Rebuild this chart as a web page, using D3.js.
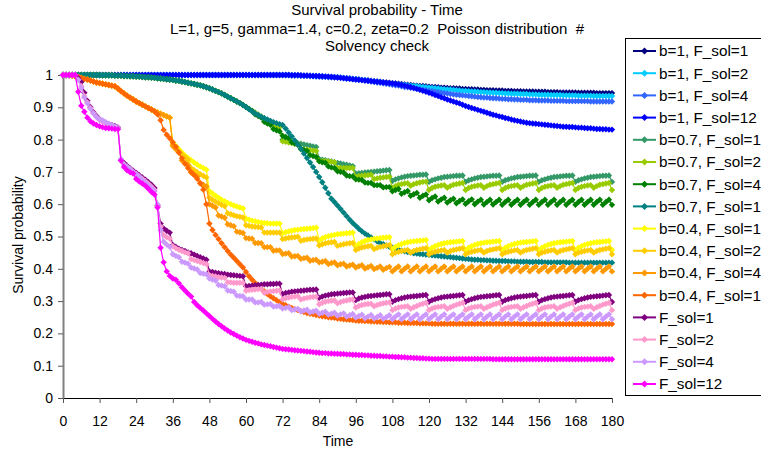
<!DOCTYPE html>
<html><head><meta charset="utf-8">
<script src="https://cdn.jsdelivr.net/npm/d3@7"></script>
<style>body{margin:0;background:#fff;overflow:hidden}</style>
</head><body><svg id="c" width="761" height="452"></svg>
<script>
const timeSteps = d3.range(0, 181);
const xTickValues = [0,12,24,36,48,60,72,84,96,108,120,132,144,156,168,180];
const yTickValues = [0,0.1,0.2,0.3,0.4,0.5,0.6,0.7,0.8,0.9,1];
const titleLines = ["Survival probability - Time", "L=1, g=5, gamma=1.4, c=0.2, zeta=0.2  Poisson distribution  #", "Solvency check"];
const seriesNames = ["b=1, F_sol=1","b=1, F_sol=2","b=1, F_sol=4","b=1, F_sol=12","b=0.7, F_sol=1","b=0.7, F_sol=2","b=0.7, F_sol=4","b=0.7, F_sol=12","b=0.4, F_sol=1","b=0.4, F_sol=2","b=0.4, F_sol=4","b=0.4, F_sol=12","F_sol=1","F_sol=2","F_sol=4","F_sol=12"];
const seriesColors = ["#000080","#00CCFF","#3366FF","#0000FF","#339966","#99CC00","#008000","#008080","#FFFF00","#FFCC00","#FF9900","#FF6600","#800080","#FF99CC","#CC99FF","#FF00FF"];

const b1_F1 = [
1,1,1,1,1,1,1,1,1,1,1,1,
1,1,1,1,1,1,1,1,1,1,1,1,
1,1,1,1,1,1,1,1,1,1,1,1,
1,1,1,1,1,1,1,1,1,1,1,1,
1,1,1,1,1,1,1,1,1,1,1,1,
1,1,1,1,1,1,1,1,1,1,1,1,
1,1,1,.999,.999,.999,.998,.998,.998,.997,.997,.996,
.996,.995,.995,.994,.994,.993,.993,.992,.991,.990,.989,.988,
.987,.986,.985,.984,.983,.982,.981,.980,.979,.978,.977,.976,
.975,.974,.973,.972,.971,.970,.969,.968,.967,.966,.966,.965,
.964,.963,.963,.962,.961,.961,.960,.959,.959,.958,.958,.957,
.957,.956,.956,.955,.955,.954,.954,.953,.953,.953,.952,.952,
.952,.951,.951,.951,.950,.950,.950,.949,.949,.949,.949,.948,
.948,.948,.948,.947,.947,.947,.947,.946,.946,.946,.946,.946,
.946,.945,.945,.945,.945,.945,.945,.944,.944,.944,.944,.944,
.944];
const b1_F2 = [
1,1,1,1,1,1,1,1,1,1,1,1,
1,1,1,1,1,1,1,1,1,1,1,1,
1,1,1,1,1,1,1,1,1,1,1,1,
1,1,1,1,1,1,1,1,1,1,1,1,
1,1,1,1,1,1,1,1,1,1,1,1,
1,1,1,1,1,1,1,1,1,1,1,1,
1,1,1,.999,.999,.999,.998,.998,.998,.997,.997,.996,
.996,.995,.995,.994,.994,.993,.993,.992,.991,.990,.989,.988,
.987,.986,.985,.984,.983,.981,.980,.979,.978,.977,.975,.974,
.973,.972,.971,.970,.969,.968,.967,.966,.965,.964,.963,.962,
.961,.960,.959,.958,.957,.956,.955,.955,.954,.953,.952,.951,
.951,.950,.949,.949,.948,.947,.947,.946,.946,.945,.945,.944,
.944,.943,.943,.942,.942,.942,.941,.941,.941,.940,.940,.940,
.939,.939,.939,.939,.938,.938,.938,.938,.937,.937,.937,.937,
.937,.936,.936,.936,.936,.936,.935,.935,.935,.935,.935,.935,
.935];
const b1_F4 = [
1,1,1,1,1,1,1,1,1,1,1,1,
1,1,1,1,1,1,1,1,1,1,1,1,
1,1,1,1,1,1,1,1,1,1,1,1,
1,1,1,1,1,1,1,1,1,1,1,1,
1,1,1,1,1,1,1,1,1,1,1,1,
1,1,1,1,1,1,1,1,1,1,1,1,
1,1,1,.999,.999,.999,.998,.998,.998,.997,.997,.996,
.996,.995,.995,.994,.994,.993,.993,.992,.991,.990,.989,.988,
.987,.986,.984,.983,.982,.980,.979,.977,.976,.974,.973,.971,
.970,.968,.967,.965,.963,.962,.960,.959,.957,.956,.954,.953,
.951,.950,.948,.947,.945,.944,.943,.941,.940,.939,.938,.937,
.936,.935,.934,.933,.932,.931,.930,.930,.929,.928,.928,.927,
.926,.926,.925,.925,.924,.924,.923,.923,.923,.922,.922,.922,
.921,.921,.921,.921,.920,.920,.920,.920,.920,.919,.919,.919,
.919,.919,.919,.919,.919,.918,.918,.918,.918,.918,.918,.918,
.918];
const b1_F12 = [
1,1,1,1,1,1,1,1,1,1,1,1,
1,1,1,1,1,1,1,1,1,1,1,1,
1,1,1,1,1,1,1,1,1,1,1,1,
1,1,1,1,1,1,1,1,1,1,1,1,
1,1,1,1,1,1,1,1,1,1,1,1,
1,1,1,1,1,1,1,1,1,1,1,1,
1,1,1,.999,.999,.999,.999,.998,.998,.998,.997,.997,
.996,.996,.995,.995,.994,.993,.992,.991,.990,.989,.988,.987,
.986,.985,.984,.983,.982,.981,.980,.979,.978,.977,.976,.975,
.974,.973,.971,.969,.967,.965,.963,.960,.957,.954,.951,.948,
.945,.942,.938,.935,.931,.928,.924,.921,.918,.915,.912,.908,
.904,.901,.898,.895,.892,.889,.886,.883,.880,.877,.875,.872,
.870,.867,.865,.862,.860,.858,.856,.854,.852,.851,.850,.849,
.848,.847,.846,.845,.844,.843,.842,.841,.840,.840,.839,.839,
.838,.837,.837,.836,.835,.835,.834,.833,.833,.832,.832,.831,
.831];
const b07_F1 = [
1,1,1,1,1,1,1,1,1,1,1,1,
1,.999,.999,.999,.999,.998,.998,.998,.997,.997,.996,.996,
.995,.995,.994,.993,.993,.992,.991,.990,.989,.988,.987,.986,
.985,.983,.982,.980,.978,.976,.974,.972,.970,.968,.965,.962,
.959,.955,.951,.947,.943,.938,.933,.928,.923,.918,.913,.907,
.901,.895,.889,.883,.877,.871,.866,.861,.856,.851,.846,.842,
.800,.797,.795,.793,.791,.789,.787,.785,.783,.781,.779,.777,
.740,.738,.736,.734,.732,.730,.728,.726,.724,.722,.720,.718,
.695,.696,.697,.698,.699,.700,.701,.702,.703,.704,.705,.706,
.672,.677,.680,.683,.685,.687,.688,.689,.690,.691,.691,.692,
.669,.674,.677,.680,.682,.684,.685,.686,.687,.688,.688,.689,
.669,.674,.677,.680,.682,.684,.685,.686,.687,.688,.688,.689,
.669,.674,.677,.680,.682,.684,.685,.686,.687,.688,.688,.689,
.669,.674,.677,.680,.682,.684,.685,.686,.687,.688,.688,.689,
.669,.674,.677,.680,.682,.684,.685,.686,.687,.688,.688,.689,
.669];
const b07_F2 = [
1,1,1,1,1,1,1,1,1,1,1,1,
1,.999,.999,.999,.999,.998,.998,.998,.997,.997,.996,.996,
.995,.995,.994,.993,.993,.992,.991,.990,.989,.988,.987,.986,
.985,.983,.982,.980,.978,.976,.974,.972,.970,.968,.965,.962,
.959,.955,.951,.947,.943,.938,.933,.928,.923,.918,.913,.907,
.901,.895,.889,.883,.877,.871,.862,.857,.852,.847,.842,.838,
.795,.793,.791,.789,.787,.785,.770,.769,.768,.767,.766,.765,
.735,.734,.733,.732,.731,.730,.712,.712,.712,.712,.712,.712,
.685,.687,.688,.689,.690,.691,.678,.680,.682,.683,.684,.685,
.650,.656,.660,.662,.664,.665,.657,.662,.665,.667,.669,.670,
.644,.650,.654,.656,.658,.659,.651,.656,.660,.662,.664,.666,
.644,.650,.654,.656,.658,.659,.651,.656,.660,.662,.664,.666,
.644,.650,.654,.656,.658,.659,.651,.656,.660,.662,.664,.666,
.644,.650,.654,.656,.658,.659,.651,.656,.660,.662,.664,.666,
.644,.650,.654,.656,.658,.659,.651,.656,.660,.662,.664,.666,
.644];
const b07_F4 = [
1,1,1,1,1,1,1,1,1,1,1,1,
1,.999,.999,.999,.999,.998,.998,.998,.997,.997,.996,.996,
.995,.995,.994,.993,.993,.992,.991,.990,.989,.988,.987,.986,
.985,.983,.982,.980,.978,.976,.974,.972,.970,.968,.965,.962,
.959,.955,.951,.947,.943,.938,.933,.928,.923,.918,.913,.907,
.901,.895,.889,.878,.873,.868,.855,.850,.846,.833,.829,.826,
.812,.808,.805,.792,.788,.785,.772,.768,.765,.752,.749,.746,
.733,.730,.728,.717,.714,.712,.702,.700,.698,.689,.687,.686,
.677,.676,.675,.667,.666,.666,.659,.659,.659,.652,.653,.653,
.640,.644,.647,.632,.637,.641,.626,.631,.635,.620,.626,.630,
.612,.619,.624,.608,.615,.620,.605,.612,.617,.603,.610,.615,
.601,.609,.615,.600,.608,.614,.599,.607,.614,.599,.607,.614,
.598,.607,.614,.598,.607,.614,.598,.607,.614,.598,.607,.614,
.598,.607,.614,.598,.607,.614,.598,.607,.614,.598,.607,.614,
.598,.607,.614,.598,.607,.614,.598,.607,.614,.598,.607,.614,
.598];
const b07_F12 = [
1,1,1,1,1,1,1,1,1,1,1,1,
1,.999,.999,.999,.999,.998,.998,.998,.997,.997,.996,.996,
.995,.995,.994,.993,.993,.992,.991,.990,.989,.988,.987,.986,
.985,.983,.982,.980,.978,.976,.974,.972,.970,.968,.965,.962,
.959,.955,.951,.947,.943,.938,.933,.928,.923,.918,.913,.907,
.901,.894,.887,.881,.876,.871,.866,.862,.858,.854,.851,.848,
.845,.834,.822,.810,.797,.784,.771,.757,.743,.729,.715,.700,
.684,.668,.651,.634,.617,.607,.596,.585,.574,.563,.552,.542,
.533,.524,.516,.509,.503,.497,.491,.485,.480,.476,.472,.468,
.465,.462,.459,.456,.454,.452,.450,.448,.447,.446,.445,.444,
.443,.442,.441,.440,.439,.438,.437,.436,.435,.434,.433,.432,
.431,.430,.429,.428,.428,.427,.427,.426,.426,.425,.425,.424,
.424,.424,.423,.423,.423,.422,.422,.422,.422,.421,.421,.421,
.421,.421,.420,.420,.420,.420,.420,.420,.420,.420,.419,.419,
.419,.419,.419,.419,.419,.419,.419,.419,.419,.419,.419,.419,
.419];
const b04_F1 = [
1,1,1,.998,.996,.994,.991,.988,.986,.983,.980,.977,
.975,.973,.971,.969,.967,.965,.958,.950,.943,.936,.930,.924,
.918,.913,.908,.903,.898,.893,.888,.884,.880,.876,.872,.868,
.790,.780,.770,.760,.751,.743,.736,.729,.723,.717,.712,.707,
.640,.633,.626,.620,.614,.609,.604,.600,.596,.593,.590,.587,
.555,.552,.549,.547,.545,.543,.542,.541,.540,.540,.540,.540,
.510,.513,.516,.518,.520,.521,.522,.523,.524,.525,.526,.527,
.488,.494,.498,.501,.503,.505,.507,.508,.509,.510,.511,.512,
.470,.477,.482,.486,.489,.491,.493,.494,.495,.496,.497,.498,
.461,.468,.473,.477,.480,.482,.484,.485,.486,.487,.488,.489,
.458,.465,.470,.474,.477,.479,.481,.482,.483,.484,.485,.486,
.458,.465,.470,.474,.477,.479,.481,.482,.483,.484,.485,.486,
.458,.465,.470,.474,.477,.479,.481,.482,.483,.484,.485,.486,
.458,.465,.470,.474,.477,.479,.481,.482,.483,.484,.485,.486,
.458,.465,.470,.474,.477,.479,.481,.482,.483,.484,.485,.486,
.458];
const b04_F2 = [
1,1,1,.998,.996,.994,.991,.988,.986,.983,.980,.977,
.975,.973,.971,.969,.967,.965,.958,.950,.943,.936,.930,.924,
.918,.913,.908,.903,.898,.893,.888,.884,.880,.876,.872,.868,
.785,.775,.765,.755,.746,.738,.712,.705,.699,.693,.688,.683,
.620,.614,.608,.603,.598,.594,.572,.569,.566,.563,.561,.559,
.535,.533,.531,.530,.529,.528,.512,.512,.512,.512,.512,.512,
.492,.494,.496,.497,.498,.499,.487,.489,.491,.492,.493,.494,
.472,.476,.479,.481,.482,.483,.471,.474,.476,.478,.479,.480,
.458,.463,.466,.468,.470,.471,.461,.465,.468,.470,.472,.473,
.445,.450,.453,.455,.457,.458,.450,.455,.458,.460,.462,.464,
.445,.450,.453,.455,.457,.458,.450,.455,.458,.460,.462,.464,
.445,.450,.453,.455,.457,.458,.450,.455,.458,.460,.462,.464,
.445,.450,.453,.455,.457,.458,.450,.455,.458,.460,.462,.464,
.445,.450,.453,.455,.457,.458,.450,.455,.458,.460,.462,.464,
.445,.450,.453,.455,.457,.458,.450,.455,.458,.460,.462,.464,
.445];
const b04_F4 = [
1,1,1,.998,.996,.994,.991,.988,.986,.983,.980,.977,
.975,.973,.971,.969,.967,.965,.958,.950,.943,.936,.930,.924,
.918,.913,.908,.903,.898,.893,.888,.884,.880,.876,.872,.868,
.780,.770,.760,.735,.728,.721,.698,.692,.686,.665,.660,.655,
.600,.595,.590,.565,.562,.558,.538,.535,.532,.515,.513,.511,
.495,.494,.493,.480,.480,.479,.467,.467,.467,.456,.457,.457,
.446,.447,.448,.438,.439,.440,.431,.433,.434,.425,.427,.428,
.420,.422,.424,.415,.418,.420,.411,.414,.416,.407,.410,.413,
.404,.408,.411,.401,.405,.409,.399,.403,.407,.397,.402,.406,
.392,.400,.407,.392,.400,.407,.392,.400,.407,.392,.400,.407,
.392,.400,.407,.392,.400,.407,.392,.400,.407,.392,.400,.407,
.392,.400,.407,.392,.400,.407,.392,.400,.407,.392,.400,.407,
.392,.400,.407,.392,.400,.407,.392,.400,.407,.392,.400,.407,
.392,.400,.407,.392,.400,.407,.392,.400,.407,.392,.400,.407,
.392,.400,.407,.392,.400,.407,.392,.400,.407,.392,.400,.407,
.392];
const b04_F12 = [
1,1,1,.998,.996,.994,.991,.988,.986,.983,.980,.977,
.975,.973,.971,.969,.967,.965,.958,.950,.943,.936,.930,.924,
.918,.913,.908,.903,.898,.893,.888,.878,.860,.830,.815,.804,
.792,.778,.760,.742,.725,.712,.700,.690,.679,.665,.645,.600,
.540,.520,.505,.492,.479,.467,.455,.444,.434,.424,.414,.404,
.390,.377,.366,.356,.347,.338,.330,.322,.315,.309,.303,.297,
.292,.287,.283,.279,.275,.272,.269,.266,.263,.261,.259,.257,
.255,.253,.252,.250,.249,.248,.246,.245,.244,.243,.242,.241,
.240,.239,.239,.238,.238,.237,.237,.236,.236,.235,.235,.234,
.234,.234,.233,.233,.233,.232,.232,.232,.232,.231,.231,.231,
.231,.230,.230,.230,.230,.230,.230,.230,.230,.230,.230,.230,
.230,.230,.230,.230,.230,.230,.230,.230,.230,.230,.230,.230,
.230,.230,.230,.230,.230,.230,.229,.229,.229,.229,.229,.229,
.229,.229,.229,.229,.229,.229,.229,.229,.229,.229,.229,.229,
.229,.229,.229,.229,.229,.229,.229,.229,.229,.229,.229,.229,
.229];
const F1 = [
1,1,1,1,1,.990,.978,.945,.920,.900,.885,.873,
.863,.857,.852,.848,.845,.842,.838,.737,.728,.719,.711,.704,
.697,.690,.683,.676,.668,.660,.650,.595,.540,.525,.518,.512,
.474,.468,.462,.458,.455,.451,.448,.444,.440,.436,.432,.428,
.392,.390,.388,.386,.385,.384,.382,.381,.380,.379,.378,.377,
.346,.347,.348,.349,.350,.351,.352,.352,.353,.353,.354,.354,
.322,.325,.327,.329,.330,.331,.332,.333,.334,.335,.335,.336,
.310,.314,.317,.319,.321,.322,.323,.324,.325,.326,.327,.327,
.303,.308,.311,.313,.315,.316,.317,.318,.319,.320,.321,.321,
.298,.303,.306,.309,.311,.313,.314,.315,.316,.317,.318,.319,
.298,.303,.306,.309,.311,.313,.314,.315,.316,.317,.318,.319,
.298,.303,.306,.309,.311,.313,.314,.315,.316,.317,.318,.319,
.298,.303,.306,.309,.311,.313,.314,.315,.316,.317,.318,.319,
.298,.303,.306,.309,.311,.313,.314,.315,.316,.317,.318,.319,
.298,.303,.306,.309,.311,.313,.314,.315,.316,.317,.318,.319,
.297];
const F2 = [
1,1,1,1,1,.985,.965,.935,.915,.897,.882,.870,
.861,.855,.850,.846,.843,.840,.836,.735,.724,.716,.708,.701,
.694,.686,.679,.671,.663,.654,.644,.592,.530,.505,.498,.493,
.470,.464,.459,.455,.451,.448,.430,.427,.424,.421,.418,.415,
.380,.378,.376,.374,.373,.372,.358,.358,.357,.357,.357,.357,
.332,.334,.335,.336,.337,.338,.326,.328,.330,.331,.332,.333,
.305,.309,.311,.313,.314,.315,.305,.308,.310,.312,.313,.314,
.290,.295,.298,.300,.301,.302,.293,.297,.300,.302,.304,.305,
.280,.285,.288,.290,.291,.292,.284,.288,.291,.293,.295,.296,
.272,.277,.280,.282,.283,.284,.276,.281,.285,.289,.292,.295,
.272,.277,.280,.282,.283,.284,.276,.281,.285,.289,.292,.295,
.272,.277,.280,.282,.283,.284,.276,.281,.285,.289,.292,.295,
.272,.277,.280,.282,.283,.284,.276,.281,.285,.289,.292,.295,
.272,.277,.280,.282,.283,.284,.276,.281,.285,.289,.292,.295,
.272,.277,.280,.282,.283,.284,.276,.281,.285,.289,.292,.295,
.272];
const F4 = [
1,1,1,1,1,.985,.960,.930,.912,.895,.881,.870,
.862,.859,.854,.849,.845,.840,.835,.740,.722,.716,.708,.700,
.693,.685,.676,.668,.659,.650,.640,.600,.520,.484,.475,.468,
.445,.440,.436,.422,.419,.416,.404,.401,.398,.387,.385,.383,
.370,.367,.364,.350,.348,.346,.333,.331,.329,.317,.316,.315,
.305,.305,.305,.296,.296,.297,.289,.290,.291,.283,.284,.285,
.277,.279,.281,.272,.274,.276,.268,.271,.273,.265,.268,.270,
.261,.264,.267,.258,.261,.264,.255,.259,.262,.252,.256,.260,
.249,.254,.258,.247,.252,.257,.246,.251,.256,.245,.250,.256,
.244,.252,.259,.244,.252,.259,.244,.252,.259,.244,.252,.259,
.244,.252,.259,.244,.252,.259,.244,.252,.259,.244,.252,.259,
.244,.252,.259,.244,.252,.259,.244,.252,.259,.244,.252,.259,
.244,.252,.259,.244,.252,.259,.244,.252,.259,.244,.252,.259,
.244,.252,.259,.244,.252,.259,.244,.252,.259,.244,.252,.259,
.244,.252,.259,.244,.252,.259,.244,.252,.259,.244,.252,.259,
.244];
const F12 = [
1,1,1,1,1,.948,.905,.886,.868,.857,.850,.845,
.841,.838,.836,.835,.834,.833,.832,.735,.715,.705,.699,.695,
.678,.670,.664,.657,.648,.638,.630,.590,.465,.420,.392,.378,
.370,.366,.355,.343,.333,.323,.314,.297,.287,.279,.271,.262,
.254,.245,.237,.229,.222,.215,.209,.203,.198,.193,.188,.184,
.180,.177,.174,.171,.169,.166,.164,.162,.160,.158,.156,.154,
.152,.151,.150,.149,.148,.147,.146,.145,.144,.143,.142,.141,
.140,.139,.139,.138,.138,.137,.137,.136,.136,.135,.135,.134,
.134,.133,.133,.132,.132,.131,.131,.130,.130,.129,.129,.128,
.128,.127,.127,.126,.126,.125,.125,.124,.124,.123,.123,.122,
.122,.121,.121,.121,.121,.121,.121,.121,.121,.121,.121,.121,
.121,.121,.121,.121,.121,.121,.121,.121,.121,.120,.120,.120,
.120,.120,.120,.120,.120,.120,.120,.120,.120,.120,.120,.120,
.120,.120,.120,.120,.120,.120,.120,.120,.120,.120,.120,.120,
.120,.120,.120,.120,.120,.120,.120,.120,.120,.120,.120,.120,
.120];

const seriesValues = [b1_F1,b1_F2,b1_F4,b1_F12,b07_F1,b07_F2,b07_F4,b07_F12,b04_F1,b04_F2,b04_F4,b04_F12,F1,F2,F4,F12];

const FONT = '"Liberation Sans", Arial, Helvetica, sans-serif';
const svg = d3.select("#c");
svg.append("rect").attr("width",761).attr("height",452).attr("fill","#fff");

const x = d3.scaleLinear().domain([0,180]).range([63,612]);
const y = d3.scaleLinear().domain([0,1]).range([398,75]);

// titles
const titleY = [15,34,51];
titleLines.forEach((t,i)=>{
  svg.append("text").attr("x",377).attr("y",titleY[i]).attr("text-anchor","middle")
    .attr("font-family",FONT).attr("font-size",15).style("white-space","pre").attr("fill","#000").text(t);
});

// axes
const xAxis = svg.append("g").attr("transform","translate(0,398)")
  .call(d3.axisBottom(x).tickValues(xTickValues).tickSize(5).tickSizeOuter(0).tickFormat(d=>String(d)));
xAxis.select(".domain").attr("stroke","#000");
xAxis.selectAll(".tick line").attr("stroke","#555");
xAxis.selectAll("text").attr("font-size",14).attr("font-family",FONT).attr("fill","#000").attr("y",18).attr("dy","0.71em");

const yAxis = svg.append("g").attr("transform","translate(63,0)")
  .call(d3.axisLeft(y).tickValues(yTickValues).tickSize(5).tickSizeOuter(0).tickPadding(5).tickFormat(d=>String(d)));
yAxis.select(".domain").attr("stroke","#808080").attr("stroke-width",2);
yAxis.selectAll(".tick line").attr("stroke","#555");
yAxis.selectAll("text").attr("font-size",14).attr("font-family",FONT).attr("fill","#000");

svg.append("text").attr("x",338).attr("y",446).attr("text-anchor","middle")
  .attr("font-family",FONT).attr("font-size",14).text("Time");
svg.append("text").attr("transform","translate(18,235) rotate(-90)").attr("text-anchor","middle").attr("dy","0.35em")
  .attr("font-family",FONT).attr("font-size",14).text("Survival probability");

// series
const diamond = r => `M0,${-r}L${r},0L0,${r}L${-r},0Z`;
const line = d3.line().x((d,j)=>x(timeSteps[j])).y(d=>y(d));
seriesValues.forEach((vals,i)=>{
  const g = svg.append("g");
  g.append("path").attr("d",line(vals)).attr("fill","none").attr("stroke",seriesColors[i]).attr("stroke-width",1.2);
  g.selectAll("path.m").data(vals).join("path").attr("class","m")
    .attr("d",diamond(3.2))
    .attr("transform",(d,j)=>`translate(${x(timeSteps[j])},${y(d)})`)
    .attr("fill",seriesColors[i]);
});

// legend
const lg = svg.append("g");
lg.append("rect").attr("x",625.5).attr("y",38.5).attr("width",200).attr("height",357)
  .attr("fill","#fff").attr("stroke","#000").attr("stroke-width",1);
seriesNames.forEach((n,i)=>{
  const cy = 51 + i*22.2;
  lg.append("line").attr("x1",633).attr("x2",656).attr("y1",cy).attr("y2",cy).attr("stroke",seriesColors[i]).attr("stroke-width",2);
  lg.append("path").attr("d",diamond(3.5)).attr("transform",`translate(644.5,${cy})`).attr("fill",seriesColors[i]);
  lg.append("text").attr("x",659).attr("y",cy).attr("dy","0.35em").attr("font-family",FONT).attr("font-size",15.3).attr("fill","#000").text(n);
});

seriesValues.forEach((v,i)=>{ if(v.length!==181) console.error("length mismatch", seriesNames[i], v.length); });
</script>
</body></html>
